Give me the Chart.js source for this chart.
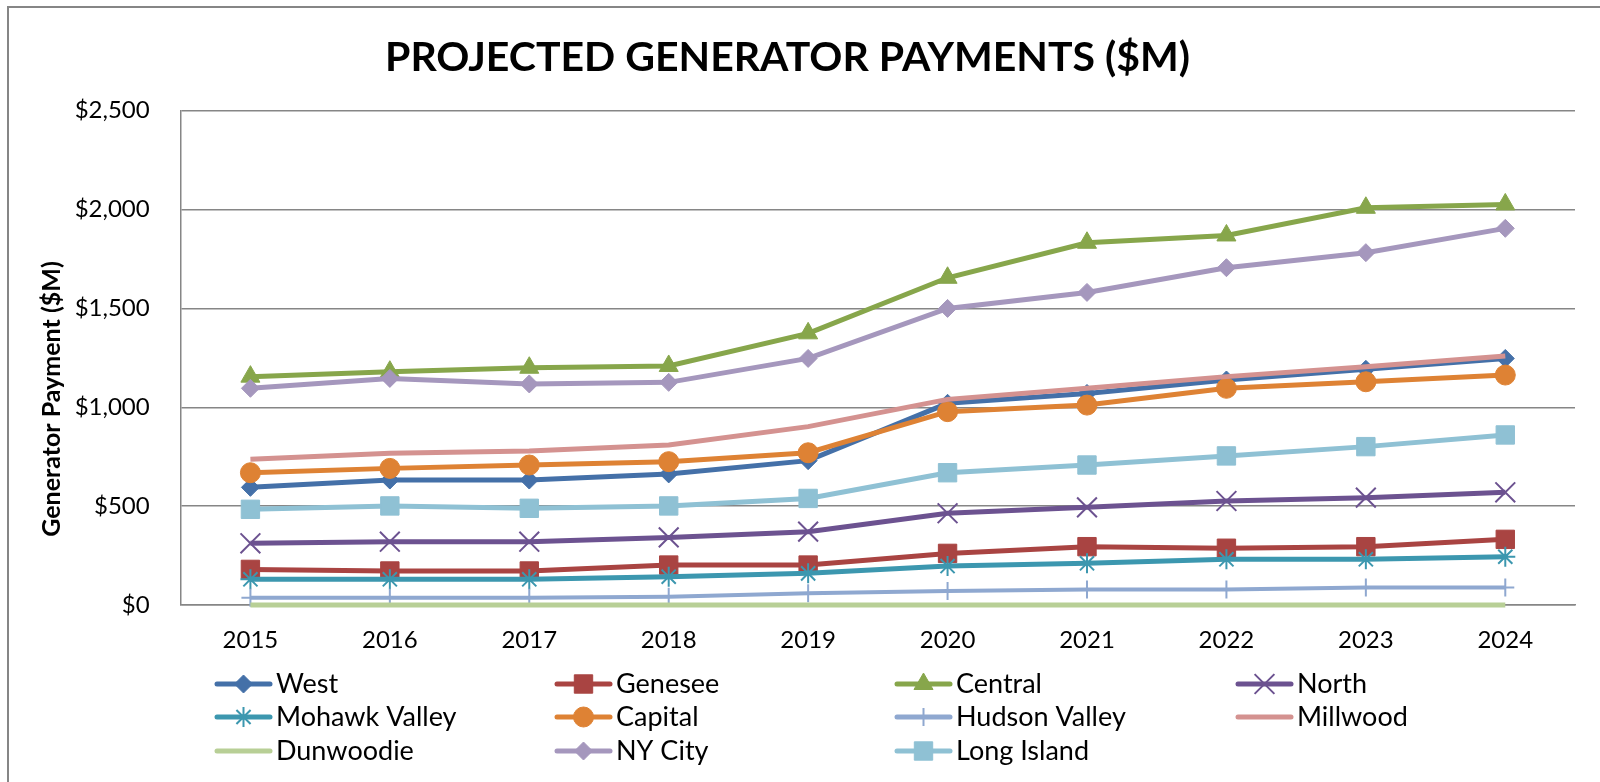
<!DOCTYPE html>
<html>
<head>
<meta charset="utf-8">
<title>Projected Generator Payments</title>
<script src="https://cdn.jsdelivr.net/npm/chart.js"></script>
<style>
    html, body { margin: 0; padding: 0; background: #fff; }
    #wrap { width: 1600px; height: 782px; position: relative; }
</style>
</head>
<body>
<div id="wrap"><canvas id="genChart"></canvas></div>
<script>
// data ($M)
const years = ['2015', '2016', '2017', '2018', '2019', '2020', '2021', '2022', '2023', '2024'];
const yTicks = [0, 500, 1000, 1500, 2000, 2500];

const west         = [595, 632, 632, 663, 730, 1020, 1070, 1138, 1192, 1247];
const genesee      = [180, 172, 172, 202, 202, 261, 295, 287, 295, 332];
const central      = [1155, 1180, 1200, 1209, 1374, 1655, 1832, 1869, 2009, 2026];
const north        = [312, 320, 320, 342, 371, 464, 494, 526, 543, 570];
const mohawkValley = [130, 130, 130, 143, 160, 197, 211, 231, 231, 244];
const capital      = [669, 691, 708, 725, 770, 978, 1011, 1096, 1129, 1163];
const hudsonValley = [37, 37, 37, 42, 59, 71, 79, 79, 88, 89];
const millwood     = [737, 767, 779, 809, 902, 1040, 1096, 1155, 1205, 1259];
const dunwoodie    = [0, 0, 0, 0, 0, 0, 0, 0, 0, 0];
const nyCity       = [1096, 1146, 1118, 1126, 1247, 1500, 1581, 1706, 1782, 1905];
const longIsland   = [484, 501, 489, 501, 539, 669, 708, 754, 801, 860];

const seriesNames = ['West', 'Genesee', 'Central', 'North', 'Mohawk Valley', 'Capital',
                     'Hudson Valley', 'Millwood', 'Dunwoodie', 'NY City', 'Long Island'];
const seriesData = [west, genesee, central, north, mohawkValley, capital,
                    hudsonValley, millwood, dunwoodie, nyCity, longIsland];

// look of each series (Excel style markers)
const seriesLook = [
    { color: '#4470a8', style: 'rectRot',  r: 9,  bw: 1 },
    { color: '#a94442', style: 'rect',     r: 13, bw: 1 },
    { color: '#87a64b', style: 'triangle', r: 11, bw: 1 },
    { color: '#6c5290', style: 'crossRot', r: 14, bw: 2 },
    { color: '#3c97af', style: 'star',     r: 10, bw: 2 },
    { color: '#de8234', style: 'circle',   r: 10, bw: 1 },
    { color: '#8fa8d0', style: 'cross',    r: 9,  bw: 2 },
    { color: '#d49290', style: 'circle',   r: 0,  bw: 0 },
    { color: '#b8cf96', style: 'circle',   r: 0,  bw: 0 },
    { color: '#a597bd', style: 'rectRot',  r: 9,  bw: 1 },
    { color: '#8fc1d4', style: 'rect',     r: 13, bw: 1 }
];

const FONT = 'Lato, "Open Sans", sans-serif';
const GRID = '#868686';

const datasets = seriesNames.map(function (name, i) {
    const look = seriesLook[i];
    return {
        label: name,
        data: seriesData[i],
        borderColor: look.color,
        backgroundColor: look.color,
        pointBackgroundColor: look.color,
        pointBorderColor: look.color,
        pointStyle: look.style,
        pointRadius: look.r,
        pointHoverRadius: look.r,
        pointBorderWidth: look.bw,
        borderWidth: i === 6 ? 4 : 5,
        tension: 0,
        clip: false,
        order: seriesNames.length - i   // later series on top, like Excel
    };
});

// frame, rotated axis title and the 4-column legend
const extras = {
    id: 'extras',
    afterDraw(chart) {
        const ctx = chart.ctx;
        ctx.save();

        ctx.strokeStyle = GRID;
        ctx.lineWidth = 2;
        ctx.beginPath();
        ctx.moveTo(8, 782);
        ctx.lineTo(8, 7);
        ctx.lineTo(1600, 7);
        ctx.stroke();

        ctx.save();
        ctx.translate(52, 399);
        ctx.rotate(-Math.PI / 2);
        ctx.fillStyle = '#000';
        ctx.font = 'bold 25px ' + FONT;
        ctx.textAlign = 'center';
        ctx.textBaseline = 'middle';
        ctx.fillText('Generator Payment ($M)', 0, 0);
        ctx.restore();

        const colX = [217, 557, 897, 1238];
        const rowY = [684, 717, 751];
        chart.data.datasets.forEach(function (ds, i) {
            const x = colX[i % 4];
            const y = rowY[Math.floor(i / 4)];
            ctx.strokeStyle = ds.borderColor;
            ctx.lineWidth = 5;
            ctx.lineCap = 'round';
            ctx.beginPath();
            ctx.moveTo(x, y);
            ctx.lineTo(x + 53, y);
            ctx.stroke();
            if (ds.pointRadius > 0) {
                ctx.fillStyle = ds.borderColor;
                ctx.lineWidth = ds.pointBorderWidth;
                ctx.lineCap = 'butt';
                Chart.helpers.drawPoint(ctx, {
                    pointStyle: ds.pointStyle,
                    radius: ds.pointRadius,
                    borderWidth: ds.pointBorderWidth,
                    rotation: 0
                }, x + 26.5, y);
            }
            ctx.fillStyle = '#000';
            ctx.font = '27px ' + FONT;
            ctx.textAlign = 'left';
            ctx.textBaseline = 'middle';
            ctx.fillText(ds.label, x + 59, y);
        });
        ctx.restore();
    }
};

new Chart(document.getElementById('genChart'), {
    type: 'line',
    data: { labels: years, datasets: datasets },
    plugins: [extras],
    options: {
        responsive: true,
        maintainAspectRatio: false,
        animation: false,
        events: [],
        layout: { padding: { left: 0, right: 25, top: 0, bottom: 120 } },
        plugins: {
            legend: { display: false },
            tooltip: { enabled: false },
            title: {
                display: true,
                text: 'PROJECTED GENERATOR PAYMENTS ($M)',
                color: '#000',
                font: { family: FONT, size: 41, weight: 'bold', lineHeight: 1.2 },
                padding: { top: 33, bottom: 28.5 }
            }
        },
        scales: {
            x: {
                offset: true,
                grid: { display: false, drawTicks: false },
                border: { display: true, color: GRID, width: 1.5 },
                ticks: { color: '#000', font: { family: FONT, size: 24 }, padding: 21, maxRotation: 0 },
                afterFit(scale) { scale.height = 57; }
            },
            y: {
                min: yTicks[0],
                max: yTicks[yTicks.length - 1],
                grid: { color: GRID, lineWidth: 1.5, drawTicks: false },
                border: { display: true, color: GRID, width: 1.5 },
                afterBuildTicks(scale) { scale.ticks = yTicks.map(v => ({ value: v })); },
                ticks: {
                    color: '#000',
                    font: { family: FONT, size: 24 },
                    padding: 31,
                    callback: v => '$' + v.toLocaleString('en-US')
                },
                afterFit(scale) { scale.width = 180.7; }
            }
        }
    }
});
</script>
</body>
</html>
